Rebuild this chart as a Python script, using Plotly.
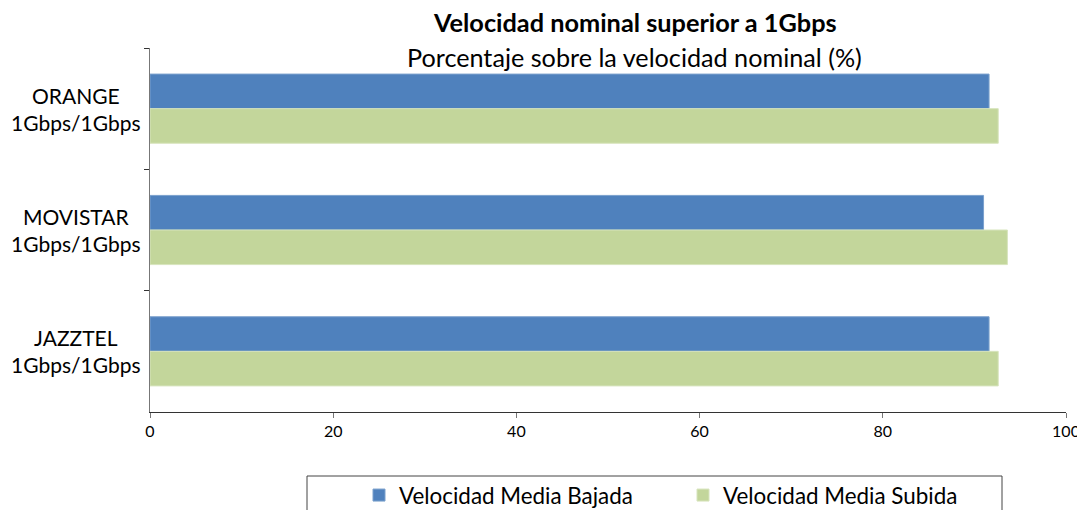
import plotly.graph_objects as go

# ---------- Data ----------
operadores = ["ORANGE", "MOVISTAR", "JAZZTEL"]
perfiles = ["1Gbps/1Gbps", "1Gbps/1Gbps", "1Gbps/1Gbps"]
bajada = [91.6, 91.0, 91.6]
subida = [92.6, 93.6, 92.6]
x_ticks = [0, 20, 40, 60, 80, 100]

FONT = "Lato, 'Open Sans', sans-serif"

# page body has an 8px margin, so the figure is sized to the visible area
W, H = 1077, 502

fig = go.Figure()
fig.add_trace(go.Bar(
    y=operadores, x=bajada, orientation="h",
    name="Velocidad Media Bajada",
    marker=dict(color="#4F81BD", line=dict(color="#7BA0CD", width=1)),
))
fig.add_trace(go.Bar(
    y=operadores, x=subida, orientation="h",
    name="Velocidad Media Subida",
    marker=dict(color="#C3D69B", line=dict(color="#D7E4BD", width=1)),
))

# two-line centred category labels
for op, perf in zip(operadores, perfiles):
    fig.add_annotation(
        x=(76 - 150) / 916, xref="paper", y=op, yref="y",
        text=f"{op}<br>{perf}", showarrow=False, align="center",
        xanchor="center", yanchor="middle",
        font=dict(family=FONT, size=21, color="black"),
    )

# titles
fig.add_annotation(x=0.529, xref="paper", y=(412 - 22) / 364, yref="paper",
                   text="<b>Velocidad nominal superior a 1Gbps</b>", showarrow=False,
                   xanchor="center", yanchor="middle",
                   font=dict(family=FONT, size=25.3, color="black"))
fig.add_annotation(x=0.529, xref="paper", y=(412 - 57) / 364, yref="paper",
                   text="Porcentaje sobre la velocidad nominal (%)", showarrow=False,
                   xanchor="center", yanchor="middle",
                   font=dict(family=FONT, size=25.2, color="black"))

# legend frame
fig.add_shape(type="rect", xref="paper", yref="paper",
              x0=(307 - 150) / 916, x1=(1002 - 150) / 916,
              y0=(412 - 476) / 364, y1=(412 - 520) / 364,
              line=dict(color="#444", width=1), fillcolor="rgba(0,0,0,0)")

fig.update_layout(
    width=W, height=H,
    margin=dict(l=142, r=W - 142 - 916, t=40, b=H - 40 - 364, autoexpand=False),
    paper_bgcolor="white", plot_bgcolor="white",
    barmode="group", bargap=0.43, bargroupgap=0,
    font=dict(family=FONT, size=16, color="black"),
    showlegend=True,
    legend=dict(
        orientation="h", x=(359 - 150) / 916, xanchor="left",
        y=(412 - 474) / 364, yanchor="top",
        entrywidth=279, entrywidthmode="pixels",
        font=dict(family=FONT, size=22.4, color="black"),
        bgcolor="rgba(0,0,0,0)", borderwidth=0,
        traceorder="normal",
    ),
    xaxis=dict(
        range=[0, 100], tickvals=x_ticks, showgrid=False, zeroline=False,
        showline=True, linecolor="#333", linewidth=1,
        ticks="outside", ticklen=5, tickcolor="#777",
        tickfont=dict(family=FONT, size=16, color="black"),
        ticklabeloverflow="allow",
    ),
    yaxis=dict(
        autorange="reversed", showgrid=False, zeroline=False,
        showline=True, linecolor="#777", linewidth=1,
        ticks="outside", ticklen=5, tickcolor="#333", tickson="boundaries",
        showticklabels=False,
    ),
)

fig.write_html("out.html")
